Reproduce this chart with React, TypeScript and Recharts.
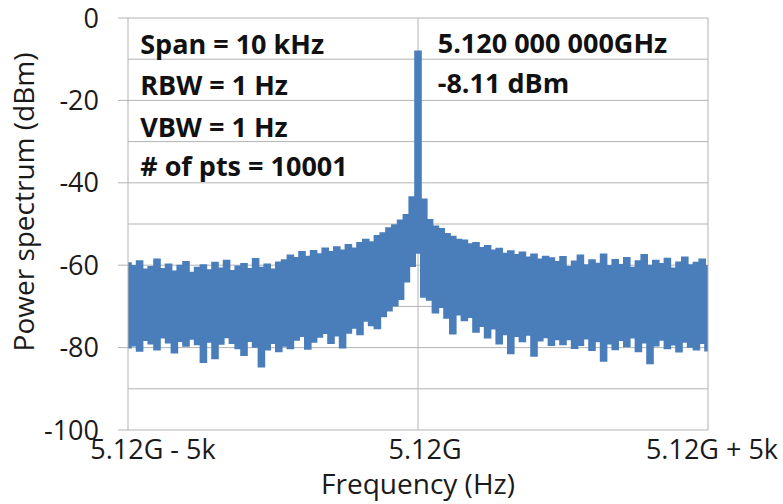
import React from 'react';
import {
  AreaChart, Area, XAxis, YAxis, CartesianGrid, ReferenceLine, ReferenceDot,
} from 'recharts';

// frequency offsets from 5.12 GHz, every 100 Hz (Hz)
const offsets = Array.from({ length: 101 }, (_, i) => -5000 + i * 100);

// top edge of the noisy trace at each offset (dBm)
const upper = [
  -59.5, -60.2, -59.0, -61.0, -60.4, -58.6, -60.9, -59.8, -61.5, -60.1,
  -59.2, -61.8, -60.6, -60.0, -61.2, -59.4, -60.8, -58.9, -61.4, -60.3,
  -59.7, -60.9, -58.5, -60.6, -59.8, -61.0, -59.3,
  -58.8, -57.6, -58.2, -56.8, -57.9, -56.5, -57.3, -55.9, -56.8, -55.6,
  -56.4, -55.1, -55.9, -54.6, -53.8, -54.4, -52.9,
  -52.2, -51.0, -50.3, -49.1, -47.8,
  -43.5, -8.11, -44.0, -49.0,
  -50.6, -51.2, -52.4, -53.1, -53.8, -54.0, -54.9, -54.6,
  -55.8, -55.3, -56.4, -56.0, -57.2, -56.6, -57.5, -56.9, -58.1, -57.4,
  -58.6, -57.9, -58.3,
  -59.2, -58.0, -60.4, -59.1, -57.6, -60.0, -58.8, -59.6, -57.4, -60.2,
  -58.7, -59.9, -58.2, -60.6, -59.0, -57.5, -60.1, -58.9, -59.7, -58.4,
  -60.8, -59.3, -58.1, -60.0, -59.4, -58.6, -60.2,
];

// bottom edge of the trace at each offset (dBm)
const lower = [
  -80.0,
  -79.5, -80.8, -78.2, -79.0, -80.5, -77.6, -78.8, -81.2, -78.4, -79.6,
  -77.9, -79.2, -83.5, -78.6, -82.6, -79.1, -77.5, -78.9, -80.2, -81.8,
  -78.4, -79.8, -84.6, -80.5, -78.9, -80.9, -79.6,
  -80.2, -78.1, -77.2, -80.3, -78.6, -77.4, -76.5, -78.9, -77.1, -80.0,
  -76.4, -75.2, -76.8, -73.5, -74.6, -75.3, -72.4, -71.0, -69.8, -68.2,
  -64.0, -60.2, -57.0,
  -67.7, -68.4, -71.5, -70.2, -72.8, -76.6, -72.0, -73.4, -72.6, -76.2,
  -74.8, -77.6, -75.4, -79.0, -76.8, -81.4, -77.2, -78.5, -76.9, -82.0,
  -78.3, -77.5, -79.4, -78.0,
  -79.2, -78.0, -80.1, -79.4, -77.8, -80.6, -78.5, -83.2, -79.0, -80.4,
  -78.2, -79.7, -77.6, -80.9, -78.8, -83.8, -79.5, -78.1, -80.2, -79.3,
  -81.0, -78.6, -79.8, -80.5, -78.9, -80.7,
];

const yTicks = [-100, -80, -60, -40, -20, 0];
const yGrid = [-90, -80, -70, -60, -50, -40, -30, -20, -10, 0];
const xTicks = [-5000, 0, 5000];
const xTickLabels = ['5.12G - 5k', '5.12G', '5.12G + 5k'];

const leftNotes = ['Span = 10 kHz', 'RBW = 1 Hz', 'VBW = 1 Hz', '# of pts = 10001'];
const leftRows = [-8.8, -18.8, -28.8, -38.4];
const rightNotes = ['5.120 000 000GHz', '-8.11 dBm'];
const rightRows = [-8.6, -18.2];

const data = offsets.map((f, i) => ({ f, band: [lower[i], upper[i]] }));

const FONT = '"Open Sans", sans-serif';
const GRID = '#b3b3b3';
const BLUE = '#4a7ebb';
const INK = '#1a1a1a';

const XTick = ({ x, y, index }: any) => {
  const shift = [25, 7, 4][index] ?? 0;
  return (
    <text x={x + shift} y={y + 21} textAnchor="middle" fontSize={27} fontFamily={FONT} fill={INK}>
      {xTickLabels[index]}
    </text>
  );
};

const note = (text: string) => ({ viewBox }: any) => (
  <text x={viewBox.x} y={viewBox.y} fontSize={27} fontWeight={700} fontFamily={FONT} fill="#111">
    {text}
  </text>
);

export default function App() {
  return (
    <div style={{ position: 'absolute', left: 0, top: 0, background: '#fff' }}>
      <AreaChart width={783} height={504} data={data}
        margin={{ top: 18, right: 75, bottom: 0, left: 0 }}>
        <CartesianGrid stroke={GRID} horizontalValues={yGrid} verticalValues={[0]} />
        <XAxis dataKey="f" type="number" domain={[-5000, 5000]} ticks={xTicks}
          tickLine={false} axisLine={{ stroke: GRID }} height={74} tick={<XTick />}
          label={{ value: 'Frequency (Hz)', position: 'insideBottom', offset: 10,
            style: { fontSize: 28, fontFamily: FONT, fill: INK } }} />
        <YAxis domain={[-100, 0]} ticks={yTicks} width={128} tickSize={10} tickMargin={19}
          axisLine={{ stroke: GRID }} tickLine={{ stroke: GRID }}
          tick={{ fontSize: 27, fontFamily: FONT, fill: INK }}
          label={{ value: 'Power spectrum (dBm)', angle: -90, position: 'insideLeft', offset: 24,
            dy: -22, style: { fontSize: 28, fontFamily: FONT, fill: INK, textAnchor: 'middle' } }} />
        <ReferenceLine x={5000} stroke={GRID} />
        <Area type="step" dataKey="band" stroke={BLUE} strokeWidth={1.8} fill={BLUE}
          fillOpacity={1} dot={false} activeDot={false} isAnimationActive={false} />
        {leftNotes.map((t, i) => (
          <ReferenceDot key={t} x={-4790} y={leftRows[i]} r={0} stroke="none" label={note(t)} />
        ))}
        {rightNotes.map((t, i) => (
          <ReferenceDot key={t} x={340} y={rightRows[i]} r={0} stroke="none" label={note(t)} />
        ))}
      </AreaChart>
    </div>
  );
}
